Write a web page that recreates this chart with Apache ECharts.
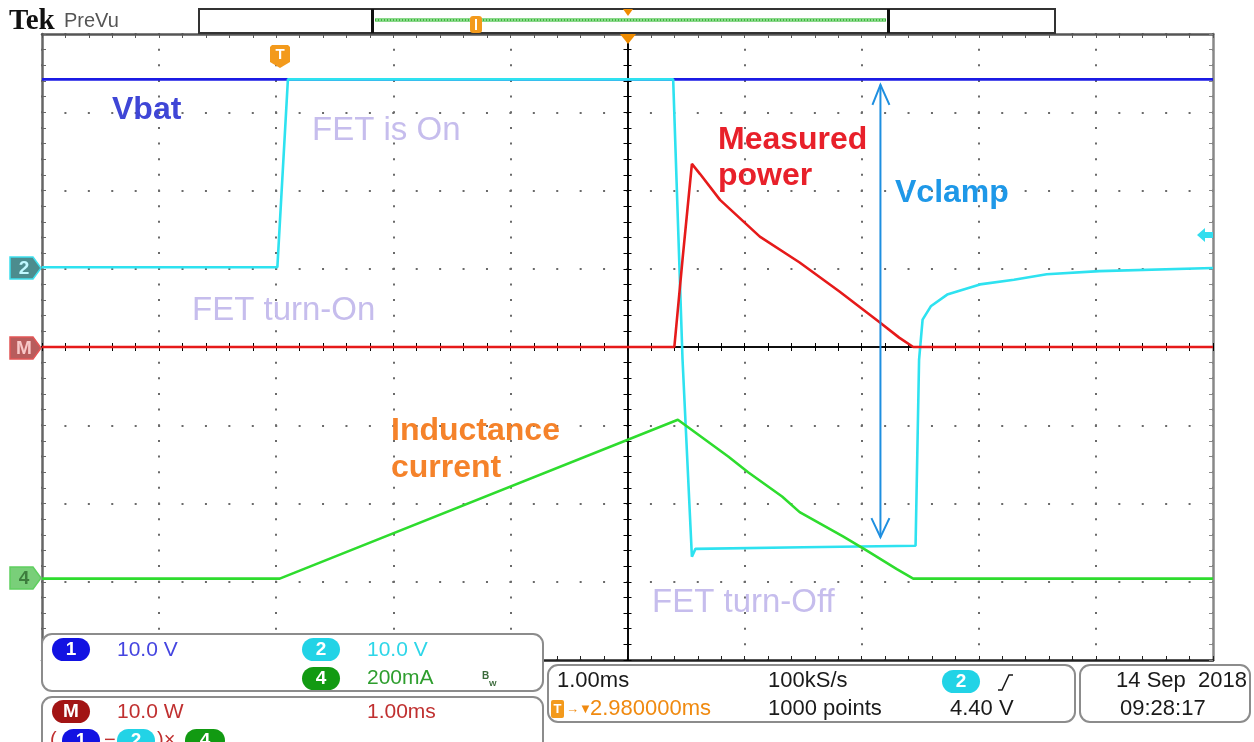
<!DOCTYPE html>
<html>
<head>
<meta charset="utf-8">
<script src="https://cdn.jsdelivr.net/npm/echarts@6/dist/echarts.min.js"></script>
<style>
  html, body { margin: 0; padding: 0; background: #fff; }
  #chart { width: 1254px; height: 742px; }
</style>
</head>
<body>
<div id="chart"></div>
<script>
// time in ms from screen centre, amplitude in graticule divisions
const ch1Vbat = [[-5, 3.42], [5, 3.42]];
const ch2Gate = [
  [-5, 1.02], [-2.99, 1.02], [-2.90, 3.42], [0.39, 3.42], [0.47, -0.16], [0.55, -2.68],
  [0.58, -2.58], [1.5, -2.56], [2.46, -2.54], [2.49, -0.16], [2.52, 0.35], [2.59, 0.52],
  [2.73, 0.67], [3.01, 0.80], [3.30, 0.86], [3.58, 0.93], [4.03, 0.97], [5, 1.01]
];
const ch4Current = [
  [-5, -2.96], [-2.97, -2.96], [0.43, -0.93], [0.86, -1.40], [1.03, -1.60], [1.32, -1.91],
  [1.47, -2.11], [1.84, -2.42], [2.03, -2.59], [2.30, -2.84], [2.44, -2.96], [5, -2.96]
];
const mathPower = [
  [-5, 0], [0.40, 0], [0.47, 1.12], [0.55, 2.34], [0.62, 2.21], [0.79, 1.88], [1.13, 1.41],
  [1.47, 1.08], [1.81, 0.71], [2.15, 0.32], [2.32, 0.12], [2.44, 0], [5, 0]
];
const vclamp = [[2.16, 3.35, -2.43]];

const annotations = [
  ['Vbat', 112, 110, '#3F46D6', 'bold', 32],
  ['FET is On', 312, 131, '#C6BDED', 'normal', 33],
  ['Measured', 718, 140, '#E8202A', 'bold', 32],
  ['power', 718, 176, '#E8202A', 'bold', 32],
  ['Vclamp', 895, 193, '#1E98E8', 'bold', 32],
  ['FET turn-On', 192, 311, '#C6BDED', 'normal', 33],
  ['Inductance', 391, 431, '#F5822A', 'bold', 32],
  ['current', 391, 468, '#F5822A', 'bold', 32],
  ['FET turn-Off', 652, 603, '#C6BDED', 'normal', 33]
];

const SANS = '"Liberation Sans", Arial, sans-serif';
const chart = echarts.init(document.getElementById('chart'));

function borderAxis(pos, color, splitDash) {
  return {
    type: 'value', min: pos === 'left' || pos === 'right' ? -4 : -5,
    max: pos === 'left' || pos === 'right' ? 4 : 5, interval: 1, position: pos,
    axisLine: { show: true, onZero: false, lineStyle: { color: color, width: 2.5 } },
    axisTick: { show: true, inside: true, length: 4, lineStyle: { color: color, width: 1 } },
    minorTick: { show: true, splitNumber: 5, length: 4, lineStyle: { color: color, width: 1 } },
    axisLabel: { show: false },
    splitLine: splitDash ? { show: true, lineStyle: { color: '#6a6a6a', width: 2, type: splitDash, dashOffset: 1 } } : { show: false }
  };
}
function centreAxis(isX, inside) {
  return {
    type: 'value', min: isX ? -5 : -4, max: isX ? 5 : 4, interval: 1, z: 3,
    position: isX ? 'bottom' : 'left',
    axisLine: { show: true, onZero: true, onZeroAxisIndex: 0, lineStyle: { color: '#000', width: 1.6 } },
    axisTick: { show: true, inside: inside, length: 4, lineStyle: { color: '#000', width: 1 } },
    minorTick: { show: true, splitNumber: 5, length: 4, lineStyle: { color: '#000', width: 1 } },
    axisLabel: { show: false }, splitLine: { show: false }
  };
}
function trace(data, color) {
  return {
    type: 'line', data: data, xAxisIndex: 0, yAxisIndex: 0, showSymbol: false, symbol: 'none',
    lineStyle: { color: color, width: 2.6 }, silent: true, animation: false
  };
}
function txt(x, y, s, color, size, weight, align, family) {
  return {
    type: 'text', z: 110,
    style: {
      x: x, y: y, text: s, fill: color, fontSize: size, fontWeight: weight || 'normal',
      fontFamily: family || SANS, align: align || 'left', verticalAlign: 'middle'
    }
  };
}
function pill(x, y, w, fill, label) {
  return [
    { type: 'rect', z: 105, shape: { x: x, y: y, width: w, height: 23, r: 11.5 }, style: { fill: fill } },
    txt(x + w / 2, y + 12, label, '#fff', 19, 'bold', 'center')
  ];
}
function box(x, y, w, h) {
  return { type: 'rect', z: 100, shape: { x: x, y: y, width: w, height: h, r: 10 },
    style: { fill: '#fff', stroke: '#8c8c8c', lineWidth: 2 } };
}
function chMarker(y, fill, stroke, label, color) {
  return [
    { type: 'polygon', z: 100, shape: { points: [[10, y - 11], [33, y - 11], [41, y], [33, y + 11], [10, y + 11]] },
      style: { fill: fill, stroke: stroke, lineWidth: 1.5 } },
    txt(24, y + 1, label, color, 19, 'bold', 'center')
  ];
}

const graphics = [].concat(
  [
    txt(9, 22, 'Tek', '#111', 29, 'bold', 'left', '"Liberation Serif", serif'),
    txt(64, 21, 'PreVu', '#555', 20, 'normal'),
    { type: 'rect', z: 100, shape: { x: 199, y: 9, width: 856, height: 24 }, style: { fill: '#fff', stroke: '#333', lineWidth: 2 } },
    { type: 'line', z: 101, shape: { x1: 375, y1: 20, x2: 886, y2: 20 }, style: { stroke: '#8AD88A', lineWidth: 4 } },
    { type: 'line', z: 101, shape: { x1: 375, y1: 20, x2: 886, y2: 20 }, style: { stroke: '#3DB83D', lineWidth: 2, lineDash: [1, 2] } },
    { type: 'rect', z: 102, shape: { x: 371, y: 9, width: 3, height: 24 }, style: { fill: '#111' } },
    { type: 'rect', z: 102, shape: { x: 887, y: 9, width: 3, height: 24 }, style: { fill: '#111' } },
    { type: 'rect', z: 102, shape: { x: 470, y: 16, width: 12, height: 17, r: 3 }, style: { fill: '#F39A1C' } },
    { type: 'line', z: 103, shape: { x1: 476, y1: 19, x2: 476, y2: 30 }, style: { stroke: '#fff', lineWidth: 2 } },
    { type: 'polygon', z: 102, shape: { points: [[623, 9], [633, 9], [628, 16]] }, style: { fill: '#F08C00' } },
    { type: 'polygon', z: 102, shape: { points: [[620, 34], [636, 34], [628, 44]] }, style: { fill: '#F08C00' } },
    { type: 'polygon', z: 102, shape: { points: [[270, 47], [272, 45], [288, 45], [290, 47], [290, 62], [280, 68], [270, 62]] }, style: { fill: '#F39A1C' } },
    txt(280, 55, 'T', '#fff', 15, 'bold', 'center'),
    { type: 'polygon', z: 102, shape: { points: [[1197, 235], [1205, 228], [1205, 232], [1213, 232], [1213, 238], [1205, 238], [1205, 242]] }, style: { fill: '#33DDEE' } }
  ],
  chMarker(268, '#4C8C8E', '#3EE0EE', '2', '#BFF8FF'),
  chMarker(348, '#B85C5C', '#E25555', 'M', '#F8C8C8'),
  chMarker(578, '#79CF79', '#5FCF5F', '4', '#3D7D3D'),
  annotations.map(a => txt(a[1], a[2], a[0], a[3], a[5], a[4])),
  [box(42, 634, 501, 57), box(42, 697, 501, 60), box(548, 665, 527, 57), box(1080, 665, 170, 57)],
  pill(52, 638, 38, '#1212E2', '1'),
  [txt(117, 650, '10.0 V', '#4545E0', 21)],
  pill(302, 638, 38, '#22D3E6', '2'),
  [txt(367, 650, '10.0 V', '#2ED6E8', 21)],
  pill(302, 667, 38, '#129A12', '4'),
  [txt(367, 678, '200mA', '#2E9E2E', 21), txt(482, 676, 'B', '#3A6A3A', 10, 'bold'), txt(489, 684, 'W', '#3A6A3A', 8, 'bold')],
  pill(52, 700, 38, '#A21414', 'M'),
  [txt(117, 712, '10.0 W', '#C03030', 21), txt(367, 712, '1.00ms', '#C03030', 21), txt(50, 740, '(', '#C03030', 20)],
  pill(62, 729, 38, '#1212E2', '1'),
  [txt(104, 740, '\u2212', '#C03030', 20)],
  pill(117, 729, 38, '#22D3E6', '2'),
  [txt(157, 740, ')\u00d7', '#C03030', 20)],
  pill(185, 729, 40, '#129A12', '4'),
  [
    txt(557, 681, '1.00ms', '#1a1a1a', 22),
    txt(768, 681, '100kS/s', '#1a1a1a', 22),
    txt(768, 709, '1000 points', '#1a1a1a', 22),
    txt(950, 709, '4.40 V', '#1a1a1a', 22),
    { type: 'polyline', z: 110, shape: { points: [[998, 690], [1002, 690], [1009, 675], [1013, 675]] }, style: { stroke: '#1a1a1a', lineWidth: 1.5, fill: null } },
    { type: 'rect', z: 105, shape: { x: 551, y: 700, width: 13, height: 18, r: 2 }, style: { fill: '#F39A1C' } },
    txt(557.5, 709, 'T', '#fff', 13, 'bold', 'center'),
    txt(566, 709, '\u2192\u25bc', '#F08A10', 13),
    txt(590, 709, '2.980000ms', '#F08A10', 22),
    txt(1247, 681, '14 Sep  2018', '#1a1a1a', 22, 'normal', 'right'),
    txt(1120, 709, '09:28:17', '#1a1a1a', 22)
  ],
  pill(942, 670, 38, '#22D3E6', '2')
);

const option = {
  animation: false,
  backgroundColor: '#fff',
  grid: { left: 42, top: 34, width: 1171, height: 626, containLabel: false, outerBoundsMode: 'none' },
  xAxis: [
    borderAxis('bottom', '#222', [2, 13.65]),
    borderAxis('top', '#555'),
    centreAxis(true, false),
    centreAxis(true, true)
  ],
  yAxis: [
    borderAxis('left', '#666', [2, 21.42]),
    borderAxis('right', '#888'),
    centreAxis(false, false),
    centreAxis(false, true)
  ],
  series: [
    trace(ch1Vbat, '#1B1BE4'),
    trace(ch2Gate, '#2EE2F0'),
    trace(ch4Current, '#2EDC2E'),
    trace(mathPower, '#E61A1A'),
    {
      type: 'custom', xAxisIndex: 0, yAxisIndex: 0, data: vclamp, silent: true, z: 4,
      encode: { x: 0, y: [1, 2] },
      renderItem: function (params, api) {
        const top = api.coord([api.value(0), api.value(1)]);
        const bot = api.coord([api.value(0), api.value(2)]);
        const st = { stroke: '#1E8FE0', lineWidth: 2, fill: null };
        return {
          type: 'group',
          children: [
            { type: 'line', shape: { x1: top[0], y1: top[1], x2: bot[0], y2: bot[1] }, style: st },
            { type: 'polyline', shape: { points: [[top[0] - 8, top[1] + 20], top, [top[0] + 9, top[1] + 20]] }, style: st },
            { type: 'polyline', shape: { points: [[bot[0] - 9, bot[1] - 19], bot, [bot[0] + 9, bot[1] - 19]] }, style: st }
          ]
        };
      }
    }
  ],
  graphic: { elements: graphics }
};

chart.setOption(option);
</script>
</body>
</html>
